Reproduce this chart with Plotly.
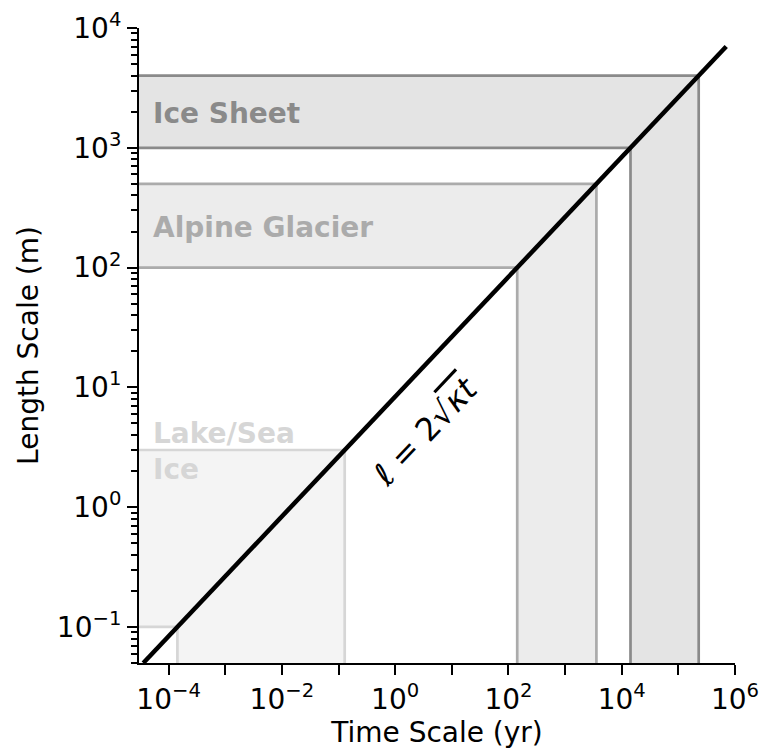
import numpy as np
import plotly.graph_objects as go

# Thermal diffusivity of ice in m^2/yr; diffusion length l = 2*sqrt(kappa*t)
KAPPA = 17.5

# Ice systems and their characteristic length ranges (m)
BAND_NAMES = ["Ice Sheet", "Alpine Glacier", "Lake/Sea Ice"]
BAND_LMIN = [1000.0, 100.0, 0.1]
BAND_LMAX = [4000.0, 500.0, 3.0]

# Extent of the diffusion curve (m)
CURVE_L = [0.05, 7000.0]

X_TICKS = [1e-4, 1e-3, 1e-2, 1e-1, 1e0, 1e1, 1e2, 1e3, 1e4, 1e5, 1e6]
X_TICK_TEXT = ["10<sup>−4</sup>", "", "10<sup>−2</sup>", "", "10<sup>0</sup>", "",
               "10<sup>2</sup>", "", "10<sup>4</sup>", "", "10<sup>6</sup>"]
Y_TICKS = [1e-1, 1e0, 1e1, 1e2, 1e3, 1e4]
Y_TICK_TEXT = ["10<sup>−1</sup>", "10<sup>0</sup>", "10<sup>1</sup>",
               "10<sup>2</sup>", "10<sup>3</sup>", "10<sup>4</sup>"]

X_RANGE = [3e-5, 1e6]
Y_RANGE = [0.05, 1e4]

FONT = "DejaVu Sans"
FILL_COLORS = ["#e4e4e4", "#ececec", "#f4f4f4"]
EDGE_COLORS = ["#8a8a8a", "#ababab", "#d6d6d6"]


def diffusion_time(length):
    return np.asarray(length, dtype=float) ** 2 / (4.0 * KAPPA)


fig = go.Figure()

# L-shaped band for each system: a horizontal strip for its length range and a
# vertical strip for the matching diffusion times; outer corners sit off-axis.
far_left, far_bottom = 1e-8, 1e-3
for name, lmin, lmax, fc, ec in zip(BAND_NAMES, BAND_LMIN, BAND_LMAX,
                                    FILL_COLORS, EDGE_COLORS):
    tmin, tmax = diffusion_time([lmin, lmax])
    xs = [far_left, tmax, tmax, tmin, tmin, far_left, far_left]
    ys = [lmax, lmax, far_bottom, far_bottom, lmin, lmin, lmax]
    fig.add_trace(go.Scatter(x=xs, y=ys, mode="lines", fill="toself",
                             fillcolor=fc, line=dict(color=ec, width=2.7),
                             hoverinfo="skip", showlegend=False, name=name))

# Diffusion length curve
curve_t = diffusion_time(CURVE_L)
curve_l = 2.0 * np.sqrt(KAPPA * curve_t)
fig.add_trace(go.Scatter(x=curve_t, y=curve_l, mode="lines",
                         line=dict(color="black", width=4.5),
                         showlegend=False, hoverinfo="skip"))

label_x = np.log10(4.8e-5)
label_y = [np.log10(1950.0), np.log10(215.0), np.log10(2.9)]
label_text = ["Ice Sheet", "Alpine Glacier", "Lake/Sea<br>Ice"]
for txt, ly, col in zip(label_text, label_y, EDGE_COLORS):
    fig.add_annotation(x=label_x, y=ly, xref="x", yref="y", text=f"<b>{txt}</b>",
                       showarrow=False, xanchor="left", yanchor="middle",
                       align="left", font=dict(family=FONT, size=28, color=col))

fig.add_annotation(
    x=np.log10(3.5), y=np.log10(4.3), xref="x", yref="y",
    text="<i>ℓ</i> = 2√<span style='text-decoration:overline'><i>κt</i></span>",
    showarrow=False, textangle=-46.6, xanchor="center", yanchor="middle",
    font=dict(family=FONT, size=32, color="black"))

minor_y = [m * 10.0 ** k for k in range(-2, 4) for m in range(2, 10)
           if Y_RANGE[0] <= m * 10.0 ** k <= Y_RANGE[1]]

fig.update_xaxes(
    type="log", range=[np.log10(X_RANGE[0]), np.log10(X_RANGE[1])],
    tickvals=X_TICKS, ticktext=X_TICK_TEXT, ticks="outside", ticklen=10,
    tickwidth=2, tickcolor="black", showline=True, linecolor="black",
    linewidth=2, showgrid=False, zeroline=False, mirror=False,
    tickfont=dict(family=FONT, size=28, color="black"),
    title=dict(text="Time Scale (yr)", standoff=6,
               font=dict(family=FONT, size=28, color="black")))

fig.update_yaxes(
    type="log", range=[np.log10(Y_RANGE[0]), np.log10(Y_RANGE[1])],
    tickvals=Y_TICKS, ticktext=Y_TICK_TEXT, ticks="outside", ticklen=10,
    tickwidth=2, tickcolor="black", showline=True, linecolor="black",
    linewidth=2, showgrid=False, zeroline=False, mirror=False,
    minor=dict(tickvals=minor_y, ticks="outside", ticklen=6, tickwidth=1.5,
               tickcolor="black", showgrid=False),
    tickfont=dict(family=FONT, size=28, color="black"),
    title=dict(text="Length Scale (m)", standoff=10,
               font=dict(family=FONT, size=28, color="black")))

fig.update_layout(
    width=764, height=754,
    margin=dict(l=139, r=29, t=28, b=91, autoexpand=False),
    paper_bgcolor="white", plot_bgcolor="white",
    showlegend=False,
)

fig.write_html("out.html")
